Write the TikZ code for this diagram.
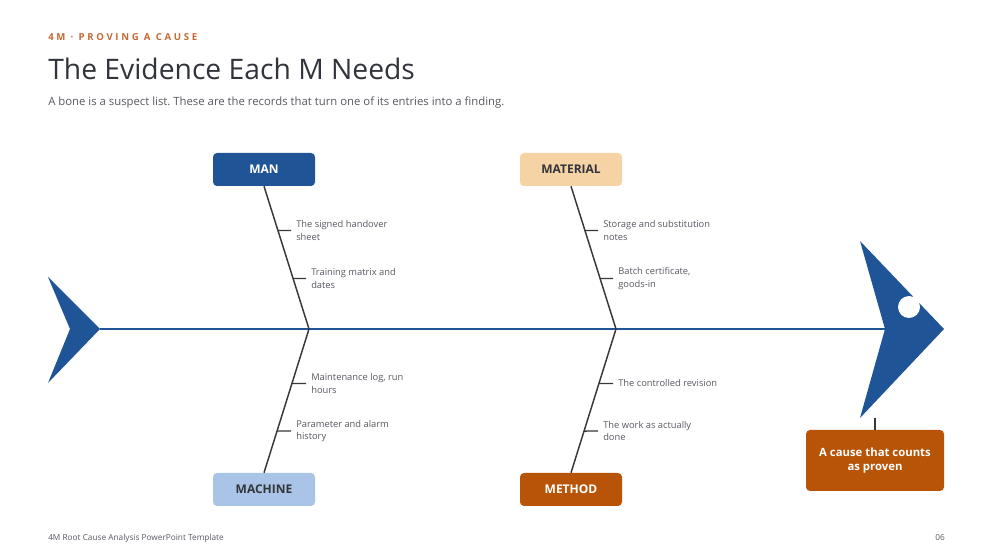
\documentclass[tikz,border=0pt]{standalone}
\usepackage{fontspec}
\setmainfont{Open Sans}
\newfontfamily\kickerfont[LetterSpace=28]{Open Sans}
\usetikzlibrary{positioning}
\frenchspacing

\definecolor{fishblue}{RGB}{31,84,150}
\definecolor{rust}{RGB}{184,84,8}
\definecolor{peach}{RGB}{246,211,164}
\definecolor{paleblue}{RGB}{169,196,230}
\definecolor{kicker}{RGB}{196,104,48}
\definecolor{ink}{RGB}{50,52,60}
\definecolor{grey}{RGB}{88,88,98}
\definecolor{bone}{RGB}{55,55,60}

\begin{document}
\begin{tikzpicture}[x=0.75pt,y=-0.75pt]

	\tikzstyle{catbox} = [
		rectangle,
		rounded corners=3pt,
		minimum width=76.5pt,
		minimum height=24.75pt,
		font=\fontsize{9}{11}\selectfont\bfseries
	]
	\tikzstyle{ribtext} = [
		anchor=west,
		align=left,
		inner xsep=3.75pt,
		inner ysep=0pt,
		text=grey,
		font=\fontsize{7}{9.2}\selectfont
	]
	\tikzstyle{boneline} = [draw=bone, line width=1.1pt]

	\useasboundingbox (0,0) rectangle (993,559);

	% heading
	\node (kick) [anchor=west, inner sep=0pt, text=kicker, font=\kickerfont\fontsize{7.2}{9}\selectfont\bfseries] at (48,37) {4M · PROVING A CAUSE};
	\node (title) [anchor=west, inner sep=0pt, text=ink, font=\fontsize{21.2}{25}\selectfont] at (48,69) {The Evidence Each M Needs};
	\node (sub) [anchor=west, inner sep=0pt, text=grey, font=\fontsize{8.5}{11}\selectfont] at (48,103) {A bone is a suspect list. These are the records that turn one of its entries into a finding.};

	% tail and head
	\coordinate (tailtip) at (100,329);
	\coordinate (headnotch) at (885,329);
	\fill [fishblue] (48,277) -- (tailtip) -- (48,383) -- (70,329) -- cycle;
	\fill [fishblue] (860,241) -- (944,329) -- (860,418) -- (headnotch) -- cycle;
	\fill [white] (909,307) circle [radius=8.25pt];

	% spine
	\draw [fishblue, line width=2.2pt] (tailtip) -- (headnotch);
	\coordinate (jA) at (309,329);
	\coordinate (jB) at (616,329);

	% categories
	\node (man) [catbox, fill=fishblue, text=white] at (264,169.5) {MAN};
	\node (material) [catbox, fill=peach, text=ink] at (571,169.5) {MATERIAL};
	\node (machine) [catbox, fill=paleblue, text=ink] at (264,489.5) {MACHINE};
	\node (method) [catbox, fill=rust, text=white] at (571,489.5) {METHOD};

	\draw [boneline] (man.south) -- (jA);
	\draw [boneline] (material.south) -- (jB);
	\draw [boneline] (machine.north) -- (jA);
	\draw [boneline] (method.north) -- (jB);

	% evidence on each bone
	\node (man1) [ribtext] at (291,230.5) {The signed handover\\sheet};
	\node (man2) [ribtext] at (306,278.5) {Training matrix and\\dates};
	\node (mat1) [ribtext] at (598,230.5) {Storage and substitution\\notes};
	\node (mat2) [ribtext] at (613,278.5) {Batch certificate,\\goods-in};
	\node (mac1) [ribtext] at (306,383.5) {Maintenance log, run\\hours};
	\node (mac2) [ribtext] at (291,431) {Parameter and alarm\\history};
	\node (met1) [ribtext] at (613,383.5) {The controlled revision};
	\node (met2) [ribtext] at (598,431) {The work as actually\\done};

	\draw [boneline] (intersection of man.south--jA and man1.west--man1.east) -- (man1.west);
	\draw [boneline] (intersection of man.south--jA and man2.west--man2.east) -- (man2.west);
	\draw [boneline] (intersection of material.south--jB and mat1.west--mat1.east) -- (mat1.west);
	\draw [boneline] (intersection of material.south--jB and mat2.west--mat2.east) -- (mat2.west);
	\draw [boneline] (intersection of machine.north--jA and mac1.west--mac1.east) -- (mac1.west);
	\draw [boneline] (intersection of machine.north--jA and mac2.west--mac2.east) -- (mac2.west);
	\draw [boneline] (intersection of method.north--jB and met1.west--met1.east) -- (met1.west);
	\draw [boneline] (intersection of method.north--jB and met2.west--met2.east) -- (met2.west);

	% effect
	\node (effect) [catbox, fill=rust, text=white, minimum width=103.5pt, minimum height=45.75pt, align=center, font=\fontsize{8.5}{10.5}\selectfont\bfseries] at (875,460.5) {A cause that counts\\as proven};
	\coordinate (headfoot) at (875,418);
	\draw [boneline] (headfoot) -- (effect.north);

	% footer
	\node (foot) [anchor=west, inner sep=0pt, text=grey, font=\fontsize{6.2}{7}\selectfont] at (48,538) {4M Root Cause Analysis PowerPoint Template};
	\node (page) [anchor=east, inner sep=0pt, text=grey, font=\fontsize{6.2}{7}\selectfont] at (945,538) {06};

\end{tikzpicture}
\end{document}
